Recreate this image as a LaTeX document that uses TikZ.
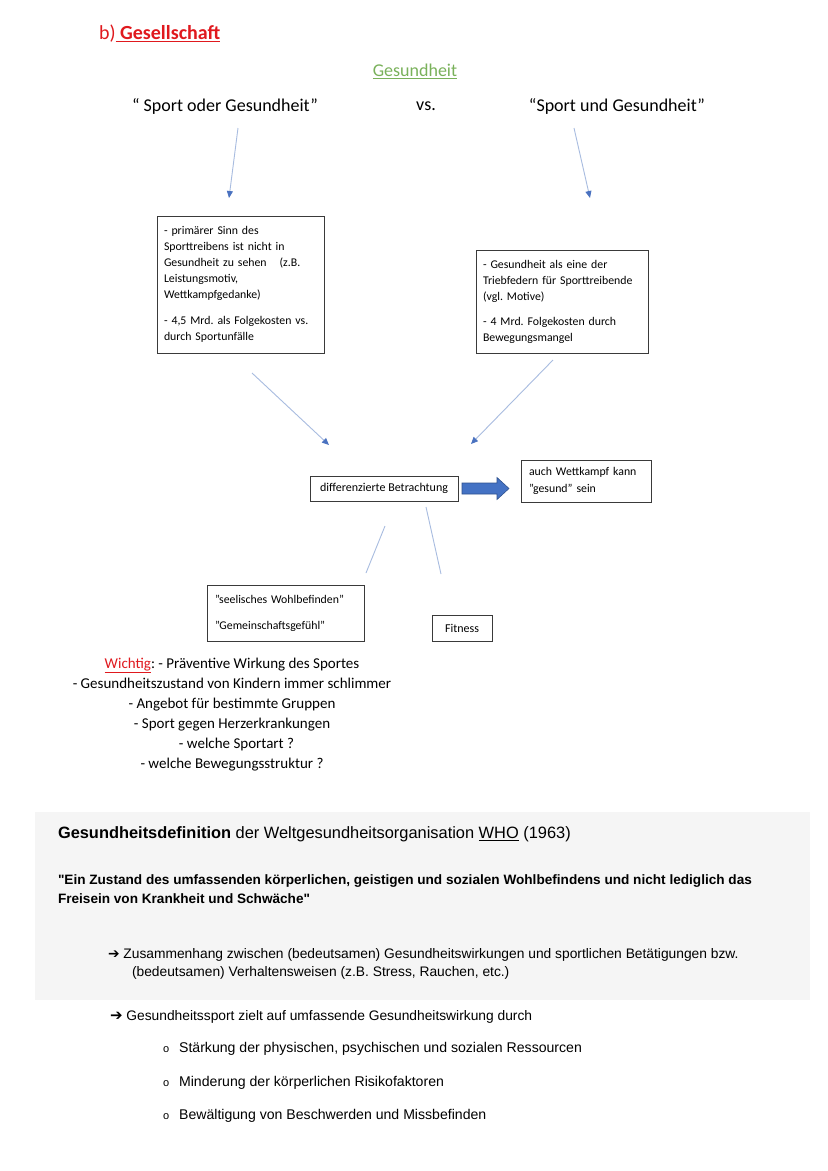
\documentclass[tikz,border=0pt]{standalone}
\usepackage{fontspec}
\setmainfont{Carlito}
\newfontfamily\arial{Liberation Sans}
\newfontfamily\dejavu{DejaVu Sans}
\usetikzlibrary{arrows.meta,calc}
\newcommand\myul[1]{\underline{\mbox{#1}}}
\definecolor{titlered}{HTML}{E0191E}
\definecolor{softgreen}{HTML}{79B15A}
\definecolor{lineblue}{HTML}{A8BCE0}
\definecolor{headblue}{HTML}{4A72C0}
\definecolor{boxgray}{HTML}{3A3A3A}
\definecolor{blockblue}{HTML}{4472C4}
\definecolor{blockedge}{HTML}{2F528F}
\definecolor{bggray}{HTML}{F5F5F5}
\begin{document}
\frenchspacing
\begin{tikzpicture}[x=1pt,y=-1pt,
  every node/.style={inner sep=0pt, outer sep=0pt},
  plain/.style={font=\fontsize{18}{21}\selectfont},
  boxtxt/.style={draw=boxgray, line width=0.9pt, align=left, anchor=north west,
     font=\fontsize{11.8}{16}\selectfont, inner xsep=8pt},
  thinarrow/.style={draw=lineblue, line width=0.9pt,
     -{Triangle[length=7pt,width=6pt,color=headblue]}},
  thinline/.style={draw=lineblue, line width=0.9pt},
  ariallabel/.style={anchor=west, align=left, font=\arial\fontsize{13.8}{18}\selectfont},
  bulletlabel/.style={anchor=west, align=left, font=\arial\fontsize{14.1}{18}\selectfont}
]
\useasboundingbox (0,0) rectangle (828,1171);
\fill[white] (0,0) rectangle (828,1171);
\fill[bggray] (35,812) rectangle (810,1000);

% headings
\node[anchor=west, text=titlered, font=\fontsize{20}{23}\selectfont] (title) at (99,34) {b)\myul{\ \bfseries Gesellschaft}};
\node[text=softgreen, font=\fontsize{18}{21}\selectfont] (gesund) at (415,71) {\myul{Gesundheit}};
\node[plain] (oder) at (225,106) {“ Sport oder Gesundheit”};
\node[plain] (vs) at (426,106) {vs.};
\node[plain] (und) at (617,106) {“Sport und Gesundheit”};

% arrow endpoints
\coordinate (a1s) at (238,128); \coordinate (a1e) at (229,198);
\coordinate (a2s) at (574,128); \coordinate (a2e) at (590,198);
\draw[thinarrow] (a1s) -- (a1e);
\draw[thinarrow] (a2s) -- (a2e);

% boxes
\node[boxtxt, minimum width=167pt, minimum height=137pt, text width=153pt, inner xsep=7pt] (box1) at (157,216)
 {- primärer Sinn des\\Sporttreibens ist nicht in\\Gesundheit zu sehen\hspace{1.1em}(z.B.\\Leistungsmotiv,\\Wettkampfgedanke)\\[10pt]- 4,5 Mrd. als Folgekosten vs.\\durch Sportunfälle};
\node[boxtxt, minimum width=172pt, minimum height=103pt, text width=158pt, inner xsep=7pt] (box2) at (476,250)
 {- Gesundheit als eine der\\Triebfedern für Sporttreibende\\(vgl. Motive)\\[9pt]- 4 Mrd. Folgekosten durch\\Bewegungsmangel};

\coordinate (a3s) at (252,373); \coordinate (a3e) at (329,445);
\coordinate (a4s) at (553,360); \coordinate (a4e) at (471,444);
\draw[thinarrow] (a3s) -- (a3e);
\draw[thinarrow] (a4s) -- (a4e);

\node[draw=boxgray, line width=0.9pt, minimum width=148pt, minimum height=25pt,
  font=\fontsize{12}{14}\selectfont] (diff) at (384,488.5) {differenzierte Betrachtung};
\node[boxtxt, minimum width=130pt, minimum height=42pt, text width=114pt,
  font=\fontsize{11.8}{17}\selectfont] (wk) at (521,460) {auch Wettkampf kann\\"gesund" sein};

\draw[draw=blockedge, fill=blockblue, line width=0.6pt]
  ($(diff.east)+(4,-5.5)$) -- ++(35,0) -- ++(0,-5.5) -- ++(12,11) -- ++(-12,11) -- ++(0,-5.5) -- ++(-35,0) -- cycle;

\coordinate (l1s) at (385,526); \coordinate (l1e) at (366,573);
\coordinate (l2s) at (426,507); \coordinate (l2e) at (441,574);
\draw[thinline] (l1s) -- (l1e);
\draw[thinline] (l2s) -- (l2e);

\node[boxtxt, minimum width=157pt, minimum height=56pt, text width=141pt,
  font=\fontsize{11.8}{16}\selectfont] (seel) at (207,585) {"seelisches Wohlbefinden"\\[10pt]"Gemeinschaftsgefühl"};
\node[draw=boxgray, line width=0.9pt, minimum width=60pt, minimum height=26pt,
  font=\fontsize{12}{14}\selectfont] (fit) at (462,628) {Fitness};

% Wichtig block
\node[align=center, anchor=north, font=\fontsize{15}{20}\selectfont] (wichtig) at (232,658)
 {\textcolor{titlered}{\myul{Wichtig}}: - Präventive Wirkung des Sportes\\
  - Gesundheitszustand von Kindern immer schlimmer\\
  - Angebot für bestimmte Gruppen\\
  - Sport gegen Herzerkrankungen\\
  \hspace{0.6em}- welche Sportart ?\\
  - welche Bewegungsstruktur ?};

% bottom part
\node[ariallabel, font=\arial\fontsize{16.4}{19}\selectfont] (def) at (58,834) {\textbf{Gesundheitsdefinition} der Weltgesundheitsorganisation \myul{WHO} (1963)};
\node[ariallabel, font=\arial\bfseries\fontsize{13.6}{19}\selectfont] (quote) at (58,889.5)
 {"Ein Zustand des umfassenden körperlichen, geistigen und sozialen Wohlbefindens und nicht lediglich das\\Freisein von Krankheit und Schwäche"};
\node[ariallabel] (z1) at (108,964)
 {{\dejavu\bfseries ➔} Zusammenhang zwischen (bedeutsamen) Gesundheitswirkungen und sportlichen Betätigungen bzw.\\\hspace{24pt}(bedeutsamen) Verhaltensweisen (z.B. Stress, Rauchen, etc.)};
\node[ariallabel] (z2) at (110,1017)
 {{\dejavu\bfseries\fontsize{15}{18}\selectfont ➔} Gesundheitssport zielt auf umfassende Gesundheitswirkung durch};
\node[bulletlabel] (b1) at (163,1049) {{\fontsize{11}{12}\selectfont o}\hspace{10pt}Stärkung der physischen, psychischen und sozialen Ressourcen};
\node[bulletlabel] (b2) at (163,1083) {{\fontsize{11}{12}\selectfont o}\hspace{10pt}Minderung der körperlichen Risikofaktoren};
\node[bulletlabel] (b3) at (163,1116) {{\fontsize{11}{12}\selectfont o}\hspace{10pt}Bewältigung von Beschwerden und Missbefinden};
\end{tikzpicture}
\end{document}
